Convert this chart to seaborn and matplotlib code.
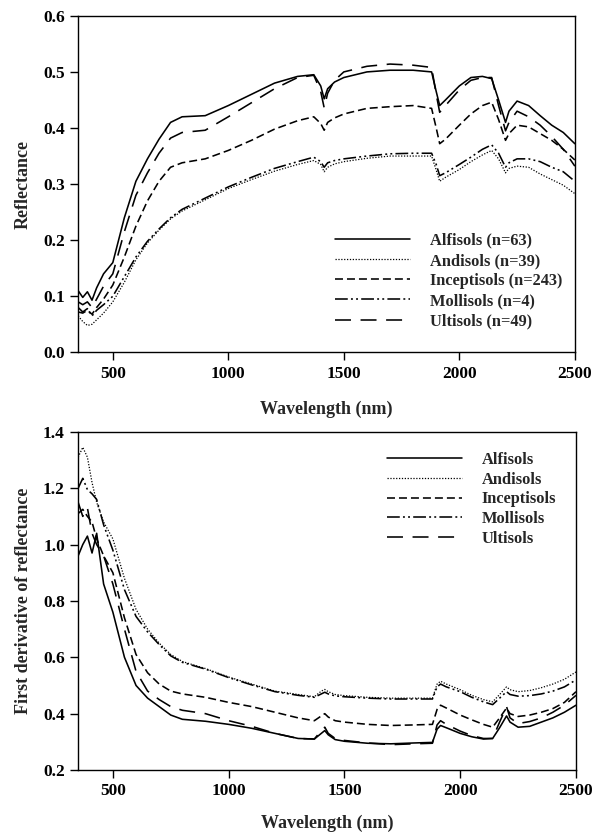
import numpy as np
import pandas as pd
import matplotlib
matplotlib.use('Agg')
import matplotlib.pyplot as plt
import seaborn as sns

# wavelength knots (nm) shared by every curve
wl = [350, 370, 390, 410, 430, 460, 500, 550, 600, 650, 700, 750, 800, 900,
      1000, 1100, 1200, 1300, 1370, 1400, 1415, 1430, 1460, 1500, 1600, 1700,
      1800, 1880, 1900, 1915, 1940, 2000, 2050, 2100, 2140, 2170, 2200, 2215,
      2250, 2300, 2350, 2400, 2450, 2500]

soils = ['Alfisols', 'Andisols', 'Inceptisols', 'Mollisols', 'Ultisols']
counts = [63, 39, 243, 4, 49]

# reflectance spectra (top panel)
refl_alfisols = [0.110, 0.098, 0.108, 0.093, 0.115, 0.140, 0.160, 0.240, 0.305, 0.345, 0.380, 0.410, 0.420, 0.422,
                 0.440, 0.460, 0.480, 0.492, 0.495, 0.475, 0.452, 0.470, 0.482, 0.490, 0.500, 0.503,
                 0.503, 0.500, 0.465, 0.440, 0.450, 0.475, 0.490, 0.492, 0.488, 0.450, 0.410, 0.430,
                 0.448, 0.440, 0.422, 0.405, 0.392, 0.372]
refl_andisols = [0.065, 0.055, 0.048, 0.050, 0.058, 0.070, 0.090, 0.125, 0.165, 0.195, 0.218, 0.238, 0.252, 0.272,
                 0.292, 0.308, 0.323, 0.335, 0.342, 0.335, 0.322, 0.330, 0.336, 0.340, 0.346, 0.350,
                 0.350, 0.350, 0.325, 0.305, 0.312, 0.326, 0.340, 0.352, 0.360, 0.345, 0.320, 0.328,
                 0.332, 0.330, 0.318, 0.308, 0.298, 0.283]
refl_inceptisols = [0.072, 0.070, 0.075, 0.068, 0.080, 0.095, 0.120, 0.170, 0.225, 0.270, 0.305, 0.330, 0.338, 0.345,
                    0.360, 0.378, 0.398, 0.413, 0.420, 0.408, 0.396, 0.410, 0.418, 0.425, 0.435, 0.438,
                    0.440, 0.435, 0.400, 0.372, 0.380, 0.405, 0.425, 0.440, 0.446, 0.415, 0.378, 0.390,
                    0.405, 0.402, 0.390, 0.378, 0.362, 0.343]
refl_mollisols = [0.080, 0.072, 0.078, 0.065, 0.075, 0.085, 0.100, 0.135, 0.170, 0.198, 0.220, 0.240, 0.255, 0.275,
                  0.295, 0.312, 0.328, 0.340, 0.348, 0.340, 0.330, 0.338, 0.342, 0.345, 0.350, 0.354,
                  0.355, 0.355, 0.335, 0.315, 0.320, 0.335, 0.348, 0.362, 0.370, 0.355, 0.330, 0.338,
                  0.345, 0.345, 0.340, 0.330, 0.322, 0.305]
refl_ultisols = [0.090, 0.085, 0.090, 0.080, 0.095, 0.118, 0.140, 0.215, 0.280, 0.320, 0.355, 0.382, 0.392, 0.396,
                 0.420, 0.445, 0.470, 0.490, 0.494, 0.465, 0.436, 0.462, 0.485, 0.500, 0.510, 0.514,
                 0.512, 0.508, 0.460, 0.428, 0.440, 0.468, 0.485, 0.490, 0.490, 0.440, 0.395, 0.410,
                 0.430, 0.420, 0.405, 0.385, 0.362, 0.332]

# first derivative spectra (bottom panel)
deriv_alfisols = [0.960, 1.000, 1.030, 0.970, 1.040, 0.860, 0.760, 0.600, 0.500, 0.455, 0.425, 0.395, 0.380, 0.373,
                  0.362, 0.348, 0.330, 0.312, 0.310, 0.330, 0.340, 0.325, 0.308, 0.302, 0.295, 0.293,
                  0.296, 0.298, 0.345, 0.358, 0.350, 0.330, 0.318, 0.310, 0.312, 0.350, 0.392, 0.370,
                  0.352, 0.355, 0.370, 0.385, 0.405, 0.430]
deriv_andisols = [1.310, 1.345, 1.310, 1.220, 1.150, 1.080, 1.020, 0.880, 0.770, 0.700, 0.650, 0.610, 0.585, 0.560,
                  0.530, 0.505, 0.480, 0.468, 0.460, 0.480, 0.486, 0.478, 0.468, 0.464, 0.458, 0.455,
                  0.455, 0.455, 0.505, 0.515, 0.505, 0.485, 0.465, 0.450, 0.442, 0.468, 0.495, 0.485,
                  0.478, 0.482, 0.492, 0.505, 0.522, 0.548]
deriv_inceptisols = [1.110, 1.125, 1.100, 1.080, 1.020, 0.960, 0.900, 0.740, 0.610, 0.545, 0.505, 0.480, 0.470, 0.458,
                     0.440, 0.425, 0.405, 0.385, 0.375, 0.392, 0.400, 0.388, 0.375, 0.370, 0.362, 0.358,
                     0.360, 0.362, 0.415, 0.430, 0.420, 0.395, 0.378, 0.362, 0.352, 0.385, 0.420, 0.400,
                     0.390, 0.395, 0.405, 0.418, 0.440, 0.478]
deriv_mollisols = [1.200, 1.235, 1.195, 1.180, 1.160, 1.070, 0.980, 0.840, 0.745, 0.690, 0.645, 0.605, 0.582, 0.558,
                   0.528, 0.502, 0.478, 0.465, 0.458, 0.470, 0.476, 0.470, 0.463, 0.460, 0.455, 0.452,
                   0.452, 0.452, 0.495, 0.505, 0.495, 0.478, 0.458, 0.442, 0.432, 0.455, 0.478, 0.468,
                   0.462, 0.464, 0.470, 0.480, 0.495, 0.520]
deriv_ultisols = [1.150, 1.100, 1.130, 1.040, 1.000, 0.960, 0.860, 0.700, 0.550, 0.480, 0.450, 0.425, 0.412, 0.400,
                  0.375, 0.355, 0.330, 0.312, 0.310, 0.340, 0.352, 0.330, 0.312, 0.305, 0.296, 0.290,
                  0.293, 0.295, 0.360, 0.375, 0.362, 0.338, 0.322, 0.312, 0.312, 0.370, 0.425, 0.385,
                  0.365, 0.372, 0.385, 0.405, 0.430, 0.465]

refl = [refl_alfisols, refl_andisols, refl_inceptisols, refl_mollisols, refl_ultisols]
deriv = [deriv_alfisols, deriv_andisols, deriv_inceptisols, deriv_mollisols, deriv_ultisols]

# line styles per soil order
styles = {
    'Alfisols': dict(linestyle='-', lw=1.15),
    'Andisols': dict(linestyle=(0, (1, 1.3)), lw=0.9),
    'Inceptisols': dict(linestyle=(0, (5, 2.5)), lw=1.15),
    'Mollisols': dict(linestyle=(0, (8, 2, 1.2, 2, 1.2, 2)), lw=1.15),
    'Ultisols': dict(linestyle=(0, (10, 6)), lw=1.15),
}

sns.set_theme(style='ticks')
plt.rcParams['font.family'] = ['Liberation Serif', 'DejaVu Serif']
plt.rcParams['font.weight'] = 'bold'
plt.rcParams['axes.labelweight'] = 'bold'

fig = plt.figure(figsize=(5.92, 8.33), dpi=100)
ax1 = fig.add_axes([0.132, 0.577, 0.839, 0.404])
ax2 = fig.add_axes([0.132, 0.0756, 0.841, 0.406])

for soil, n, r, d in zip(soils, counts, refl, deriv):
    st = styles[soil]
    sns.lineplot(x=wl, y=r, ax=ax1, color='black', label=f'{soil} (n={n})', **st)
    sns.lineplot(x=wl, y=d, ax=ax2, color='black', label=soil, **st)

for ax in (ax1, ax2):
    ax.set_xlim(350, 2500)
    ax.set_xticks([500, 1000, 1500, 2000, 2500])
    ax.tick_params(axis='both', direction='out', length=6, width=1, labelsize=12.5,
                   top=False, right=False, colors='black')
    for lab in ax.get_xticklabels() + ax.get_yticklabels():
        lab.set_fontweight('bold')
    for sp in ax.spines.values():
        sp.set_visible(True)
        sp.set_color('black')
        sp.set_linewidth(1.0)

ax1.set_xlabel('Wavelength (nm)', fontsize=13, fontweight='bold', labelpad=14)
ax2.set_xlabel('Wavelength (nm)', fontsize=13, fontweight='bold', labelpad=11)

ax1.set_ylim(0, 0.6)
ax1.set_yticks(np.arange(0, 0.61, 0.1))
ax1.set_yticklabels([f'{v:.1f}' for v in np.arange(0, 0.61, 0.1)])
ax1.set_ylabel('Reflectance', fontsize=13, fontweight='bold', labelpad=8)

ax2.set_ylim(0.2, 1.4)
ax2.set_yticks(np.arange(0.2, 1.41, 0.2))
ax2.set_yticklabels([f'{v:.1f}' for v in np.arange(0.2, 1.41, 0.2)])
ax2.set_ylabel('First derivative of reflectance', fontsize=13, fontweight='bold', labelpad=8)

leg_kw = dict(loc='upper left', frameon=False, borderpad=0, borderaxespad=0,
              handletextpad=1.2,
              prop={'family': 'Liberation Serif', 'weight': 'bold', 'size': 11.8})
ax1.legend(bbox_to_anchor=(0.517, 0.355), labelspacing=0.25, handlelength=4.6, **leg_kw)
ax2.legend(bbox_to_anchor=(0.62, 0.94), labelspacing=0.22, handlelength=4.6, **leg_kw)

fig.savefig('out.png', dpi=100)
